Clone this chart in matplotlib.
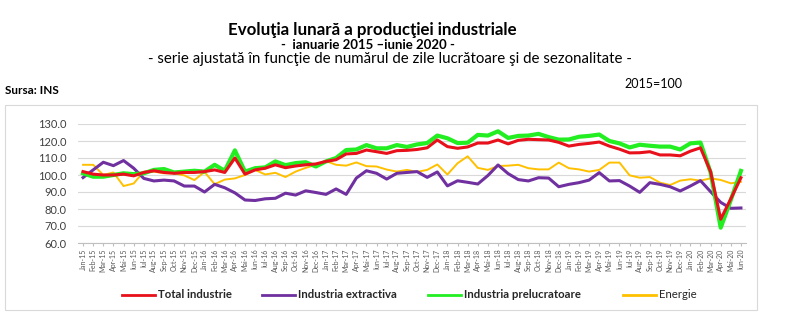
import matplotlib
matplotlib.use("Agg")
import matplotlib.pyplot as plt
from matplotlib.patches import Rectangle
import numpy as np

plt.rcParams['font.family'] = ['Lato', 'DejaVu Sans']

# luni: ian 2015 - iun 2020
luni = ['Jan', 'Feb', 'Mar', 'Apr', 'Mai', 'Iun', 'Iul', 'Aug', 'Sep', 'Oct', 'Nov', 'Dec']
ani = ['15', '16', '17', '18', '19', '20']
etichete = [f"{l}-{a}" for a in ani for l in luni][:66]

total = [102, 100.5, 100, 100, 100.5, 99.5, 101.5, 102.5, 101.5, 101, 101.5, 101.5,
         102, 103, 101.5, 110, 100.5, 103, 104, 106, 104.3, 105.3, 106, 106.5,
         108, 109, 112.4, 112.7, 114.7, 113.7, 112.7, 114.3, 114.5, 115, 116, 120.6,
         116.7, 115.7, 116.5, 118.8, 118.8, 120.6, 118.3, 120.4, 121, 120.8, 120.6, 119.2,
         117, 118, 118.6, 119.4, 117, 115.2, 113, 113.1, 113.7, 111.8, 111.8, 111.3,
         114, 116, 102, 74, 86, 98.4]

prelucratoare = [101, 99, 99, 100, 101, 100.5, 101, 103, 103.5, 101.5, 102, 102.5,
                 102, 106, 102.5, 114.5, 102, 104, 104.5, 108, 105.8, 107, 107.5, 105,
                 108, 110, 114.7, 115, 117.6, 115.7, 115.7, 117.6, 116.5, 118, 118.8, 123.2,
                 121.6, 118.8, 119, 123.6, 123.2, 125.7, 121.8, 123, 123.2, 124.2, 122.3, 120.8,
                 120.9, 122.5, 123, 123.8, 120, 118.6, 116.2, 117.8, 117.2, 116.7, 116.7, 115,
                 118.6, 119.1, 101.5, 69, 85.3, 102.4]

extractiva = [98.5, 103, 107.5, 105.5, 108.5, 104, 98, 96.5, 97, 96.5, 93.5, 93.5,
              90, 94.5, 92.5, 89.5, 85.3, 85, 86, 86.3, 89.3, 88.2, 90.7, 89.7,
              88.6, 91.8, 88.6, 98.2, 102.5, 101, 97.6, 101, 101.5, 102, 98.6, 101.8,
              93.6, 96.6, 95.7, 94.7, 99.7, 105.9, 100.8, 97.3, 96.5, 98.4, 98.2, 93.1,
              94.5, 95.5, 97, 101.4, 96.5, 96.7, 93.5, 89.8, 95.5, 94.5, 93.1, 90.6,
              93.5, 96.7, 90.2, 83.9, 80.4, 80.6]

energie = [106, 106, 100, 101.5, 93.5, 95, 102, 102, 101, 101, 99.8, 97,
           101.8, 94.6, 97.3, 98, 100, 103, 100.3, 101.3, 98.8, 102, 104.2, 106,
           108.2, 106, 105.5, 107.4, 105.2, 105, 103.2, 102, 103, 101.8, 103, 106.2,
           100.3, 106.9, 111, 104.2, 103, 105.3, 105.5, 106, 104, 103.3, 103.3, 107.3,
           104, 103.3, 102, 103, 107.3, 107.3, 99.8, 98.4, 98.8, 95.5, 94.1, 96.7,
           97.5, 96.7, 98, 97.1, 95.1, 96]

W, H = 800, 332
fig = plt.figure(figsize=(W / 100, H / 100), dpi=100)

# chenarul graficului
fig.patches.append(Rectangle((5 / W, 1 - 310 / H), 752 / W, 205 / H, transform=fig.transFigure,
                             fill=False, edgecolor='#D9D9D9', linewidth=0.8))

ax = fig.add_axes([78 / W, 1 - 243 / H, 668 / W, 119 / H])
x = np.arange(len(etichete))

ax.plot(x, energie, color='#FFC000', linewidth=1.4, label='Energie', zorder=3)
ax.plot(x, extractiva, color='#7030A0', linewidth=2.2, label='Industria extractiva', zorder=4)
ax.plot(x, prelucratoare, color='#22EE22', linewidth=3.0, label='Industria prelucratoare', zorder=5)
ax.plot(x, total, color='#E8101A', linewidth=2.2, label='Total industrie', zorder=6)

ax.set_xlim(-0.5, len(x) - 0.5)
ax.set_ylim(60, 130)
ax.set_yticks(np.arange(60, 131, 10))
ax.set_yticklabels([f"{v:.1f}" for v in np.arange(60, 131, 10)], fontsize=8, color='#404040')
ax.yaxis.grid(True, color='#D9D9D9', linewidth=0.8)
ax.set_axisbelow(True)
ax.tick_params(axis='y', length=0, pad=8)

ax.set_xticks(x)
ax.set_xticklabels(etichete, rotation=90, fontsize=5, color='#595959')
ax.tick_params(axis='x', length=2, color='#BFBFBF', pad=2)
for s in ['top', 'right', 'left']:
    ax.spines[s].set_visible(False)
ax.spines['bottom'].set_color('#BFBFBF')
ax.spines['bottom'].set_linewidth(0.8)

# titluri
fig.text(372 / W, 1 - 30 / H, 'Evoluţia lunară a producţiei industriale', ha='center', va='center',
         fontsize=12.2, fontweight='bold', color='#000000')
fig.text(368 / W, 1 - 45 / H, '-  ianuarie 2015 –iunie 2020 -', ha='center', va='center',
         fontsize=9.5, fontweight='bold', color='#000000')
fig.text(390 / W, 1 - 59 / H,
         '- serie ajustată în funcţie de numărul de zile lucrătoare şi de sezonalitate -',
         ha='center', va='center', fontsize=10.8, color='#000000')
fig.text(682 / W, 1 - 84 / H, '2015=100', ha='right', va='center', fontsize=9, color='#000000')
fig.text(5 / W, 1 - 90 / H, 'Sursa: INS', ha='left', va='center', fontsize=8.5, fontweight='bold')

# legenda
leg_items = [('Total industrie', '#E8101A', 122, 'bold'),
             ('Industria extractiva', '#7030A0', 262, 'bold'),
             ('Industria prelucratoare', '#22EE22', 428, 'bold'),
             ('Energie', '#FFC000', 623, 'normal')]
ly = 1 - 295 / H
for nume, culoare, x0, greutate in leg_items:
    fig.lines.append(plt.Line2D([x0 / W, (x0 + 33) / W], [ly, ly], transform=fig.transFigure,
                                color=culoare, linewidth=2))
    fig.text((x0 + 36) / W, ly, nume, ha='left', va='center', fontsize=8.2,
             fontweight=greutate, color='#262626')

fig.savefig('out.png', dpi=100)
